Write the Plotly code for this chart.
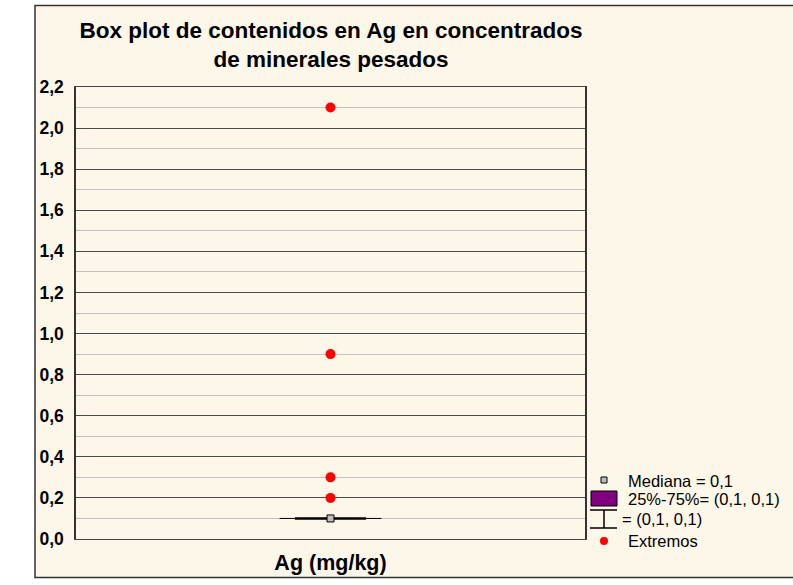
import plotly.graph_objects as go

# ---- data ----
category = ["Ag (mg/kg)"]
median = [0.1]
q1 = [0.1]
q3 = [0.1]
whisker_low = [0.1]
whisker_high = [0.1]
extremes = [0.2, 0.3, 0.9, 2.1]
y_ticks = [0.0, 0.2, 0.4, 0.6, 0.8, 1.0, 1.2, 1.4, 1.6, 1.8, 2.0, 2.2]

W, H = 793, 585
L, R, T, B = 76, 585, 87, 539   # plot area in pixels
FONT = "Arial, Liberation Sans, sans-serif"

def px(x):
    return (x - L) / (R - L)

def py(y):
    return (B - y) / (B - T)

fig = go.Figure()
xc = 0  # category position
# whisker caps (thin, wider)
fig.add_trace(go.Scatter(x=[xc - 0.2, xc + 0.2], y=[whisker_low[0], whisker_high[0]],
                         mode="lines", line=dict(color="black", width=1),
                         showlegend=False, hoverinfo="skip"))
# box (degenerate, q1 == q3)
fig.add_trace(go.Scatter(x=[xc - 0.14, xc + 0.14], y=[q1[0], q3[0]],
                         mode="lines", line=dict(color="black", width=2.5),
                         showlegend=False, hoverinfo="skip"))
# median
fig.add_trace(go.Scatter(x=[xc], y=median, mode="markers",
                         marker=dict(symbol="square", size=7, color="#bdbdbd",
                                     line=dict(color="black", width=1)),
                         showlegend=False))
# extremes
fig.add_trace(go.Scatter(x=[xc] * len(extremes), y=extremes, mode="markers",
                         marker=dict(symbol="circle", size=10, color="#ff0000"),
                         showlegend=False))

shapes = []
# outer frame
shapes.append(dict(type="rect", xref="paper", yref="paper", layer="below",
                   x0=px(35), x1=px(805), y0=py(577.5), y1=py(5.5),
                   fillcolor="#fdf7ea", line=dict(color="#333333", width=1.5)))
# legend symbols
shapes.append(dict(type="rect", xref="paper", yref="paper",
                   x0=px(591), x1=px(617), y0=py(506), y1=py(491),
                   fillcolor="#800080", line=dict(color="black", width=1)))
for (x0, y0, x1, y1) in [(590, 510, 617, 510), (604, 510, 604, 528), (590, 528, 617, 528)]:
    shapes.append(dict(type="line", xref="paper", yref="paper",
                       x0=px(x0), x1=px(x1), y0=py(y0), y1=py(y1),
                       line=dict(color="black", width=1.5)))
shapes.append(dict(type="rect", xref="paper", yref="paper",
                   x0=px(601), x1=px(607), y0=py(483), y1=py(477),
                   fillcolor="#bdbdbd", line=dict(color="black", width=1)))
shapes.append(dict(type="circle", xref="paper", yref="paper",
                   x0=px(600), x1=px(608), y0=py(545), y1=py(537),
                   fillcolor="#ff0000", line=dict(color="#ff0000", width=0)))

annotations = []
for text, x, y in [("Mediana = 0,1", 626, 481), ("25%-75%= (0,1, 0,1)", 626, 499),
                   ("= (0,1, 0,1)", 620, 519), ("Extremos", 626, 541)]:
    annotations.append(dict(text=text, xref="paper", yref="paper", x=px(x), y=py(y),
                            xanchor="left", yanchor="middle", showarrow=False,
                            font=dict(family=FONT, size=16.5, color="black")))

fig.update_layout(
    width=W, height=H, autosize=False,
    margin=dict(l=L, r=W - R, t=T, b=H - B, pad=0, autoexpand=False),
    paper_bgcolor="white", plot_bgcolor="#f2f2f2",
    separators=",.",
    title=dict(text="<b>Box plot de contenidos en Ag en concentrados<br>de minerales pesados</b>",
               x=px(331), xref="paper", xanchor="center",
               y=1 - 37.5 / H, yanchor="middle", automargin=False,
               font=dict(family=FONT, size=22.5, color="black")),
    xaxis=dict(range=[-1, 1], tickvals=[xc], ticktext=["<b>" + category[0] + "</b>"],
               tickfont=dict(family=FONT, size=21.5, color="black"), ticks="",
               showgrid=False, zeroline=False, showline=True, linecolor="#444444",
               linewidth=1, mirror=True, ticklabelstandoff=4, fixedrange=True,
               automargin=False),
    yaxis=dict(range=[0, 2.2], tickvals=y_ticks,
               ticktext=["<b>" + f"{v:.1f}".replace(".", ",") + "</b>" for v in y_ticks],
               tickfont=dict(family=FONT, size=17.5, color="black"), ticks="",
               showgrid=True, gridcolor="#4a4a4a", gridwidth=1,
               minor=dict(dtick=0.1, showgrid=True, gridcolor="#c0c0c0", gridwidth=1),
               zeroline=False, showline=True, linecolor="#333333", linewidth=1.5,
               mirror=True, ticklabelstandoff=7, fixedrange=True, automargin=False),
    shapes=shapes, annotations=annotations,
    showlegend=False,
)

fig.write_html(
    "out.html",
    config={"responsive": False, "displayModeBar": False},
    post_script="document.body.style.margin='0';document.body.style.overflow='hidden';",
)
